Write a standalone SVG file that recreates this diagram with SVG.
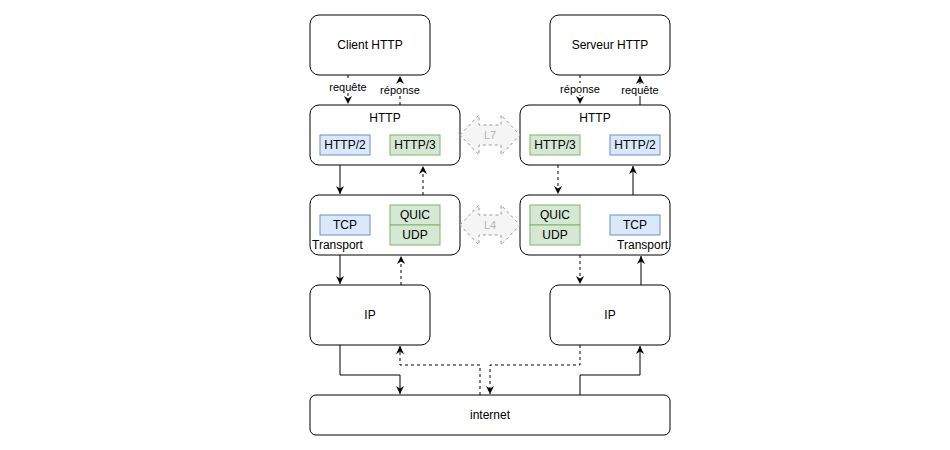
<svg xmlns="http://www.w3.org/2000/svg" width="950" height="450" viewBox="0 0 950 450">
<style>
.box{fill:#fff;stroke:#000;stroke-width:1}
.blue{fill:#dae8fc;stroke:#6c8ebf;stroke-width:1}
.green{fill:#d5e8d4;stroke:#82b366;stroke-width:1}
.t{font-family:"Liberation Sans",Arial,sans-serif;font-size:12px;fill:#000;text-anchor:middle;dominant-baseline:central}
.lbl{font-family:"Liberation Sans",Arial,sans-serif;font-size:11px;fill:#000;text-anchor:middle;dominant-baseline:central}
.c{fill:none;stroke:#000;stroke-width:1}
.d{stroke-dasharray:3 3}
.dbl{fill:#f5f5f5;stroke:#999;stroke-width:1;stroke-dasharray:3 3}
.gt{font-family:"Liberation Sans",Arial,sans-serif;font-size:11px;fill:#b3b3b3;text-anchor:middle;dominant-baseline:central}
</style>
<defs>
<marker id="ah" viewBox="0 0 8 8" refX="8" refY="4" markerWidth="8" markerHeight="8" markerUnits="userSpaceOnUse" orient="auto">
<path d="M0,0 L8,4 L0,8 L2.5,4 Z" fill="#000"/>
</marker>
</defs>
<rect width="950" height="450" fill="#fff"/>

<g id="connectors">
<path class="c d" d="M348,75 V104" marker-end="url(#ah)"/>
<path class="c d" d="M400,105 V76" marker-end="url(#ah)"/>
<path class="c d" d="M580,75 V104" marker-end="url(#ah)"/>
<path class="c" d="M640,105 V76" marker-end="url(#ah)"/>
<path class="c" d="M340,165 V194" marker-end="url(#ah)"/>
<path class="c d" d="M423,195 V166" marker-end="url(#ah)"/>
<path class="c d" d="M558,165 V194" marker-end="url(#ah)"/>
<path class="c" d="M633,195 V166" marker-end="url(#ah)"/>
<path class="c" d="M340,255 V284" marker-end="url(#ah)"/>
<path class="c d" d="M401,285 V256" marker-end="url(#ah)"/>
<path class="c d" d="M580,255 V284" marker-end="url(#ah)"/>
<path class="c" d="M641,285 V256" marker-end="url(#ah)"/>
<path class="c" d="M340,345 V375 H400 V394" marker-end="url(#ah)"/>
<path class="c d" d="M480,395 V365 H400 V346" marker-end="url(#ah)"/>
<path class="c d" d="M580,345 V365 H490 V394" marker-end="url(#ah)"/>
<path class="c" d="M580,395 V375 H640 V346" marker-end="url(#ah)"/>
<rect x="328" y="81" width="40" height="12" fill="#fff"/>
<text class="lbl" x="348" y="87">requête</text>
<rect x="379" y="84" width="42" height="12" fill="#fff"/>
<text class="lbl" x="400" y="90">réponse</text>
<rect x="559" y="83" width="42" height="12" fill="#fff"/>
<text class="lbl" x="580" y="89">réponse</text>
<rect x="620" y="84" width="40" height="12" fill="#fff"/>
<text class="lbl" x="640" y="90">requête</text>
</g>

<g id="client">
<rect class="box" x="310" y="15" width="120" height="60" rx="9"/>
<text class="t" x="370" y="45">Client HTTP</text>
</g>
<g id="serveur">
<rect class="box" x="550" y="15" width="120" height="60" rx="9"/>
<text class="t" x="610" y="45">Serveur HTTP</text>
</g>

<g id="http-left">
<rect class="box" x="310" y="105" width="150" height="60" rx="9"/>
<text class="t" x="385" y="118">HTTP</text>
</g>
<g id="http2-left">
<rect class="blue" x="320" y="135" width="50" height="20"/>
<text class="t" x="345" y="145">HTTP/2</text>
</g>
<g id="http3-left">
<rect class="green" x="390" y="135" width="50" height="20"/>
<text class="t" x="415" y="145">HTTP/3</text>
</g>

<g id="http-right">
<rect class="box" x="520" y="105" width="150" height="60" rx="9"/>
<text class="t" x="595" y="118">HTTP</text>
</g>
<g id="http3-right">
<rect class="green" x="530" y="135" width="50" height="20"/>
<text class="t" x="555" y="145">HTTP/3</text>
</g>
<g id="http2-right">
<rect class="blue" x="610" y="135" width="50" height="20"/>
<text class="t" x="635" y="145">HTTP/2</text>
</g>

<g id="transport-left">
<rect class="box" x="310" y="195" width="150" height="60" rx="9"/>
<text class="t" x="312" y="245" style="text-anchor:start">Transport</text>
</g>
<g id="tcp-left">
<rect class="blue" x="320" y="215" width="50" height="20"/>
<text class="t" x="345" y="225">TCP</text>
</g>
<g id="quic-left">
<rect class="green" x="390" y="205" width="50" height="20"/>
<text class="t" x="415" y="215">QUIC</text>
</g>
<g id="udp-left">
<rect class="green" x="390" y="225" width="50" height="20"/>
<text class="t" x="415" y="235">UDP</text>
</g>

<g id="transport-right">
<rect class="box" x="520" y="195" width="150" height="60" rx="9"/>
<text class="t" x="668" y="245" style="text-anchor:end">Transport</text>
</g>
<g id="quic-right">
<rect class="green" x="530" y="205" width="50" height="20"/>
<text class="t" x="555" y="215">QUIC</text>
</g>
<g id="udp-right">
<rect class="green" x="530" y="225" width="50" height="20"/>
<text class="t" x="555" y="235">UDP</text>
</g>
<g id="tcp-right">
<rect class="blue" x="610" y="215" width="50" height="20"/>
<text class="t" x="635" y="225">TCP</text>
</g>

<g id="l7">
<path class="dbl" d="M460,135 L479,115 L479,125 L501,125 L501,115 L520,135 L501,155 L501,145 L479,145 L479,155 Z"/>
<text class="gt" x="490" y="135">L7</text>
</g>
<g id="l4">
<path class="dbl" d="M460,225 L479,205 L479,215 L501,215 L501,205 L520,225 L501,245 L501,235 L479,235 L479,245 Z"/>
<text class="gt" x="490" y="225">L4</text>
</g>

<g id="ip-left">
<rect class="box" x="310" y="285" width="120" height="60" rx="9"/>
<text class="t" x="370" y="315">IP</text>
</g>
<g id="ip-right">
<rect class="box" x="550" y="285" width="120" height="60" rx="9"/>
<text class="t" x="610" y="315">IP</text>
</g>

<g id="internet">
<rect class="box" x="310" y="395" width="360" height="40" rx="6"/>
<text class="t" x="490" y="415">internet</text>
</g>
</svg>
